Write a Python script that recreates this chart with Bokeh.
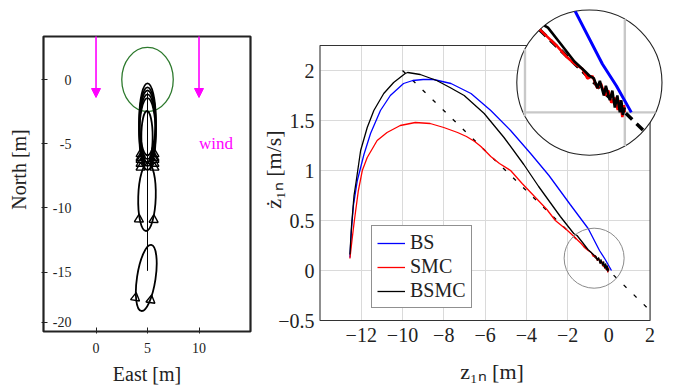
import math
from bokeh.plotting import figure
from bokeh.models import (Range1d, FixedTicker, CustomJSTickFormatter, BoxAnnotation, Legend,
                          LegendItem, Arrow, NormalHead, ColumnDataSource, Grid)
from bokeh.layouts import row
from bokeh.embed import file_html
from bokeh.resources import INLINE
from bokeh.core.properties import value

FONT = "Liberation Serif"

# ---------------- left panel data (North/East positions) ----------------
east_ticks = [0, 5, 10]
north_tick_pos = [0, -5, -10, -15, -18.9]
north_tick_lbl = ["0", "-5", "-10", "-15", "-20"]
wind_x = [0, 10]
wind_tip_y = [-1.4, -1.4]
wind_label_x, wind_label_y = [10.0], [-5.0]
target_x, target_y, target_d = [5.0], [0.0], [5.0]
path_x = [5.0, 5.0]
path_y = [-14.9, -1.0]
icon_x = [4.88, 4.95, 5.0, 5.0, 5.0, 5.0, 5.0, 4.95]
icon_y = [-15.45, -9.15, -3.1, -3.4, -3.65, -3.95, -4.25, -4.45]
icon_w = [1.8, 1.7, 1.6, 1.6, 1.6, 1.6, 1.6, 1.1]
icon_h = [5.2, 5.3, 5.6, 5.6, 5.6, 5.6, 5.6, 4.0]
icon_tilt = [-0.15, -0.03, 0.0, 0.0, 0.0, 0.0, 0.0, 0.0]
icon_fin_dy = [-1.65, -1.75, -2.7, -2.7, -2.6, -2.6, -2.6, None]

# ---------------- right panel data (phase plane) ----------------
z_ticks = [-12, -10, -8, -6, -4, -2, 0, 2]
zd_ticks = [-0.5, 0, 0.5, 1, 1.5, 2]

bs_x = [-12.55, -12.48, -12.38, -12.19, -11.87, -11.55, -11.07, -10.59, -9.95, -9.5, -9.0,
        -8.5, -7.65, -6.68, -5.72, -4.76, -3.79, -2.9, -1.87, -1.0, -0.45, -0.17, 0.13]
bs_y = [0.13, 0.40, 0.65, 0.90, 1.16, 1.37, 1.60, 1.75, 1.87, 1.90, 1.91,
        1.91, 1.87, 1.77, 1.60, 1.40, 1.17, 0.95, 0.66, 0.42, 0.20, 0.11, 0.0]

smc_x = [-12.55, -12.45, -12.34, -12.14, -11.95, -11.71, -11.23, -10.75, -10.11, -9.38, -8.66,
         -8.0, -7.33, -6.9, -6.5, -6.2, -5.72, -5.3, -4.76, -4.2, -3.6, -3.0, -2.59, -2.0,
         -1.69, -1.54, -1.34, -1.17, -1.0, -0.85, -0.75, -0.65, -0.55, -0.48, -0.4, -0.33,
         -0.27, -0.2, -0.14, -0.09, -0.05, -0.02, 0.0]
smc_y = [0.12, 0.30, 0.49, 0.80, 1.0, 1.13, 1.30, 1.38, 1.45, 1.48, 1.47,
         1.43, 1.38, 1.34, 1.29, 1.24, 1.14, 1.07, 1.0, 0.87, 0.74, 0.61, 0.50, 0.40,
         0.34, 0.31, 0.27, 0.23, 0.20, 0.18, 0.14, 0.15, 0.10, 0.12, 0.07, 0.09,
         0.04, 0.06, 0.01, 0.05, -0.02, 0.03, 0.0]

bsmc_x = [-12.55, -12.47, -12.35, -12.24, -12.03, -11.71, -11.39, -10.91, -10.43, -9.87, -9.75,
          -9.14, -8.34, -7.70, -7.01, -6.04, -5.08, -4.12, -3.4, -2.35, -1.7, -1.54, -1.31,
          -1.01, -0.8, -0.7, -0.62, -0.55, -0.5, -0.42, -0.38, -0.3, -0.25, -0.2, -0.15,
          -0.1, -0.07, -0.04, 0.0]
bsmc_y = [0.16, 0.45, 0.75, 0.90, 1.20, 1.43, 1.60, 1.77, 1.88, 1.97, 1.98,
          1.96, 1.90, 1.83, 1.75, 1.57, 1.33, 1.06, 0.84, 0.54, 0.37, 0.35, 0.29,
          0.21, 0.17, 0.15, 0.14, 0.10, 0.13, 0.07, 0.11, 0.05, 0.09, 0.02, 0.07,
          0.0, 0.05, -0.01, 0.02]

surf_x = [-10.0, 2.0]
surf_y = [2.0, -0.4]

# zoom lens: source region and its magnified copy
lens_src = (-0.71, 0.123)
lens_dst = (-0.94, 1.879)
lens_r_px = 30.0
lens_mag = 2.42

# common vertical layout for both panels (row aligns their frames)
TOP, FH, BOT = 5, 328, 55

# ======================= LEFT FIGURE =======================
LX0, LX1, LY0, LBOX_TOP = -5.1, 15.0, -19.62, 3.35
LFW = 211
PAD = 2.0                       # px of frame beyond the drawn box
kxl = (LFW - 2 * PAD) / (LX1 - LX0)
kyl = (FH - 31 - PAD) / (LBOX_TOP - LY0)
LY0r = LY0 - PAD / kyl
LY1r = LBOX_TOP + 31 / kyl
LX0r, LX1r = LX0 - PAD / kxl, LX1 + PAD / kxl
pl = figure(width=258, height=388, frame_width=LFW, frame_height=FH,
            x_range=Range1d(LX0r, LX1r), y_range=Range1d(LY0r, LY1r),
            min_border_left=41, min_border_right=6, min_border_top=TOP, min_border_bottom=BOT,
            toolbar_location=None, output_backend="svg", title_location=None)
pl.xgrid.visible = False
pl.ygrid.visible = False
pl.outline_line_color = None
pl.background_fill_color = "white"
pl.add_layout(BoxAnnotation(left=LX0, right=LX1, bottom=LY0, top=LBOX_TOP, fill_color=None,
                            fill_alpha=0, line_color="#222222", line_alpha=1.0, line_width=2.2,
                            level="underlay"))

pl.xaxis.ticker = FixedTicker(ticks=east_ticks)
pl.yaxis.ticker = FixedTicker(ticks=north_tick_pos)
pl.yaxis.major_label_overrides = {t: l for t, l in zip(north_tick_pos, north_tick_lbl)}
pl.yaxis.bounds = (LY0, LBOX_TOP)
pl.xaxis.bounds = (LX0, LX1)
for ax in (pl.xaxis[0], pl.yaxis[0]):
    ax.axis_line_color = None
    ax.major_tick_in = 6
    ax.major_tick_out = 0
    ax.minor_tick_line_color = None
    ax.major_tick_line_color = "#222222"
    ax.major_label_text_font = FONT
    ax.major_label_text_font_size = "14px"
    ax.major_label_text_color = "#222222"
    ax.axis_label_text_font = FONT
    ax.axis_label_text_font_size = "20px"
    ax.axis_label_text_font_style = "normal"
    ax.axis_label_text_color = "#222222"
pl.xaxis.axis_label = "East [m]"
pl.yaxis.axis_label = "North [m]"
pl.xaxis.major_label_standoff = 9
pl.xaxis.axis_label_standoff = 7
pl.yaxis.major_label_standoff = -30
pl.yaxis.axis_label_standoff = 20

# target circle
pl.ellipse(x=target_x, y=target_y, width=target_d, height=target_d,
           fill_color=None, line_color="#2e7a2e", line_width=1.3)
# wind arrows
wind_src = ColumnDataSource(dict(x=wind_x, y0=[LBOX_TOP] * len(wind_x), y1=wind_tip_y))
pl.add_layout(Arrow(source=wind_src, x_start="x", y_start="y0", x_end="x", y_end="y1",
                    line_color="#ff00ff", line_width=1.6,
                    end=NormalHead(size=9, fill_color="#ff00ff", line_color="#ff00ff")))
pl.text(x=wind_label_x, y=wind_label_y, text=["wind"], text_font=value(FONT),
        text_font_size="17px", text_color="#ff00ff", text_baseline="middle", text_align="left")
# path
pl.line(path_x, path_y, line_color="black", line_width=1)
# vehicle icons
pl.ellipse(x=icon_x, y=icon_y, width=icon_w, height=icon_h, angle=icon_tilt,
           fill_color=None, line_color="black", line_width=1.8)
tri_x, tri_y, tri_a = [], [], []
for x, y, w, a, fdy in zip(icon_x, icon_y, icon_w, icon_tilt, icon_fin_dy):
    if fdy is None:
        continue
    for side in (-1, 1):
        ox, oy = side * 0.42 * w * kxl, fdy * kyl   # px offsets
        rx = ox * math.cos(a) - oy * math.sin(a)
        ry = ox * math.sin(a) + oy * math.cos(a)
        tri_x.append(x + rx / kxl)
        tri_y.append(y + ry / kyl)
        tri_a.append(a)
pl.scatter(x=tri_x, y=tri_y, angle=tri_a, marker="triangle", size=9,
           fill_color=None, line_color="black", line_width=1.4)

# ======================= RIGHT FIGURE =======================
FW = 347
RX0, RX1 = -14.0, 2.75
BX1, BY0, BY1 = 2.0, -0.5, 2.25
RY1 = 2.65
ky = 100.0
RY0 = RY1 - FH / ky
kx = (FW - 1.5) / (RX1 - RX0)
RX0r = RX0 - 1.5 / kx
pr = figure(width=417, height=388, frame_width=FW, frame_height=FH,
            x_range=Range1d(RX0r, RX1), y_range=Range1d(RY0, RY1),
            min_border_left=60, min_border_right=10, min_border_top=TOP, min_border_bottom=BOT,
            toolbar_location=None, output_backend="svg", title_location=None)
pr.outline_line_color = None

fmt = CustomJSTickFormatter(code='return (tick < 0 ? "\\u2212" : "") + Math.abs(tick).toString();')
pr.xaxis.ticker = FixedTicker(ticks=z_ticks)
pr.yaxis.ticker = FixedTicker(ticks=zd_ticks)
pr.xaxis.formatter = fmt
pr.yaxis.formatter = fmt
pr.xaxis.bounds = (RX0, BX1)
pr.yaxis.bounds = (BY0, BY1)
for ax in (pr.xaxis[0], pr.yaxis[0]):
    ax.axis_line_color = None
    ax.major_tick_in = 0
    ax.major_tick_out = 0
    ax.minor_tick_line_color = None
    ax.major_label_text_font = FONT
    ax.major_label_text_font_size = "20px"
    ax.major_label_text_color = "#222222"
    ax.axis_label_text_font = FONT
    ax.axis_label_text_font_size = "22px"
    ax.axis_label_text_font_style = "normal"
    ax.axis_label_text_color = "#222222"
pr.xaxis.axis_label = "z\u2081\u2099 [m]"
pr.yaxis.axis_label = "\u017c\u2081\u2099 [m/s]"
pr.xaxis.major_label_standoff = -6
pr.xaxis.axis_label_standoff = 14
pr.yaxis.major_label_standoff = 4
pr.yaxis.axis_label_standoff = -11

grid_col = "#dadada"
has_cross = "cross_bounds" in Grid.properties()
for g in pr.xgrid:
    g.grid_line_color = grid_col
    if has_cross:
        g.cross_bounds = (BY0, BY1)
for g in pr.ygrid:
    g.grid_line_color = grid_col
    if has_cross:
        g.cross_bounds = (RX0, BX1)
if not has_cross:
    pr.xgrid.visible = False
    pr.ygrid.visible = False
    pr.segment(x0=z_ticks, x1=z_ticks, y0=[BY0] * len(z_ticks), y1=[BY1] * len(z_ticks),
               line_color=grid_col, line_width=1)
    pr.segment(x0=[RX0] * len(zd_ticks), x1=[BX1] * len(zd_ticks), y0=zd_ticks, y1=zd_ticks,
               line_color=grid_col, line_width=1)

pr.add_layout(BoxAnnotation(left=RX0, right=BX1, bottom=BY0, top=BY1, fill_color=None,
                            fill_alpha=0, line_color="#333333", line_alpha=1.0, line_width=1.1,
                            level="underlay"))

pr.line(surf_x, surf_y, line_color="black", line_width=1.3, line_dash="4 10")
r_bs = pr.line(bs_x, bs_y, line_color="#0000ff", line_width=1.3)
r_smc = pr.line(smc_x, smc_y, line_color="#ff0000", line_width=1.3)
r_bsmc = pr.line(bsmc_x, bsmc_y, line_color="black", line_width=1.3)

# small lens marker
pr.scatter(x=[lens_src[0]], y=[lens_src[1]], size=2 * lens_r_px, marker="circle",
           fill_color=None, line_color="#8a8a8a", line_width=1)
# magnified lens
pr.scatter(x=[lens_dst[0]], y=[lens_dst[1]], size=2 * lens_r_px * lens_mag, marker="circle",
           fill_color="white", line_color="#222222", line_width=1.1)


def clip_runs(xs, ys):
    cx, cy = lens_src
    r = lens_r_px
    runs, cur = [], []
    for i in range(len(xs) - 1):
        x0, y0, x1, y1 = xs[i], ys[i], xs[i + 1], ys[i + 1]
        ax_, ay_ = (x0 - cx) * kx, (y0 - cy) * ky
        dx, dy = (x1 - x0) * kx, (y1 - y0) * ky
        a = dx * dx + dy * dy
        b = 2 * (ax_ * dx + ay_ * dy)
        c = ax_ * ax_ + ay_ * ay_ - r * r
        disc = b * b - 4 * a * c
        if a == 0 or disc <= 0:
            if cur:
                runs.append(cur)
                cur = []
            continue
        s = math.sqrt(disc)
        t0 = max(0.0, (-b - s) / (2 * a))
        t1 = min(1.0, (-b + s) / (2 * a))
        if t0 >= t1:
            if cur:
                runs.append(cur)
                cur = []
            continue
        pa = (x0 + (x1 - x0) * t0, y0 + (y1 - y0) * t0)
        pb = (x0 + (x1 - x0) * t1, y0 + (y1 - y0) * t1)
        if not cur:
            cur = [pa]
        cur.append(pb)
        if t1 < 1.0:
            runs.append(cur)
            cur = []
    if cur:
        runs.append(cur)
    mx, my = [], []
    for run in runs:
        mx.append([lens_dst[0] + (p[0] - lens_src[0]) * lens_mag for p in run])
        my.append([lens_dst[1] + (p[1] - lens_src[1]) * lens_mag for p in run])
    return mx, my


big = 10.0
for t in z_ticks:
    gx, gy = clip_runs([t, t], [lens_src[1] - big, lens_src[1] + big])
    pr.multi_line(gx, gy, line_color="#c8c8c8", line_width=2.4)
for t in zd_ticks:
    gx, gy = clip_runs([lens_src[0] - 50, lens_src[0] + 50], [t, t])
    pr.multi_line(gx, gy, line_color="#c8c8c8", line_width=2.4)

sx_, sy_ = clip_runs(surf_x, surf_y)
pr.multi_line(sx_, sy_, line_color="black", line_width=3.5, line_dash="9 6")
for xs, ys, col, lw in ((bs_x, bs_y, "#0000ff", 3), (smc_x, smc_y, "#ff0000", 2.6),
                        (bsmc_x, bsmc_y, "black", 2.6)):
    mx, my = clip_runs(xs, ys)
    pr.multi_line(mx, my, line_color=col, line_width=lw)

legend = Legend(items=[LegendItem(label="BS", renderers=[r_bs]),
                       LegendItem(label="SMC", renderers=[r_smc]),
                       LegendItem(label="BSMC", renderers=[r_bsmc])],
                location=(53, 25), orientation="vertical",
                label_text_font=FONT, label_text_font_size="20px", label_text_color="#222222",
                glyph_width=28, glyph_height=22, label_height=22, label_standoff=5,
                spacing=1, padding=5, margin=0,
                border_line_color="#222222", border_line_width=1,
                background_fill_color="white", background_fill_alpha=1.0)
pr.add_layout(legend)

layout = row(pl, pr)
open("out.html", "w").write(file_html(layout, INLINE))
